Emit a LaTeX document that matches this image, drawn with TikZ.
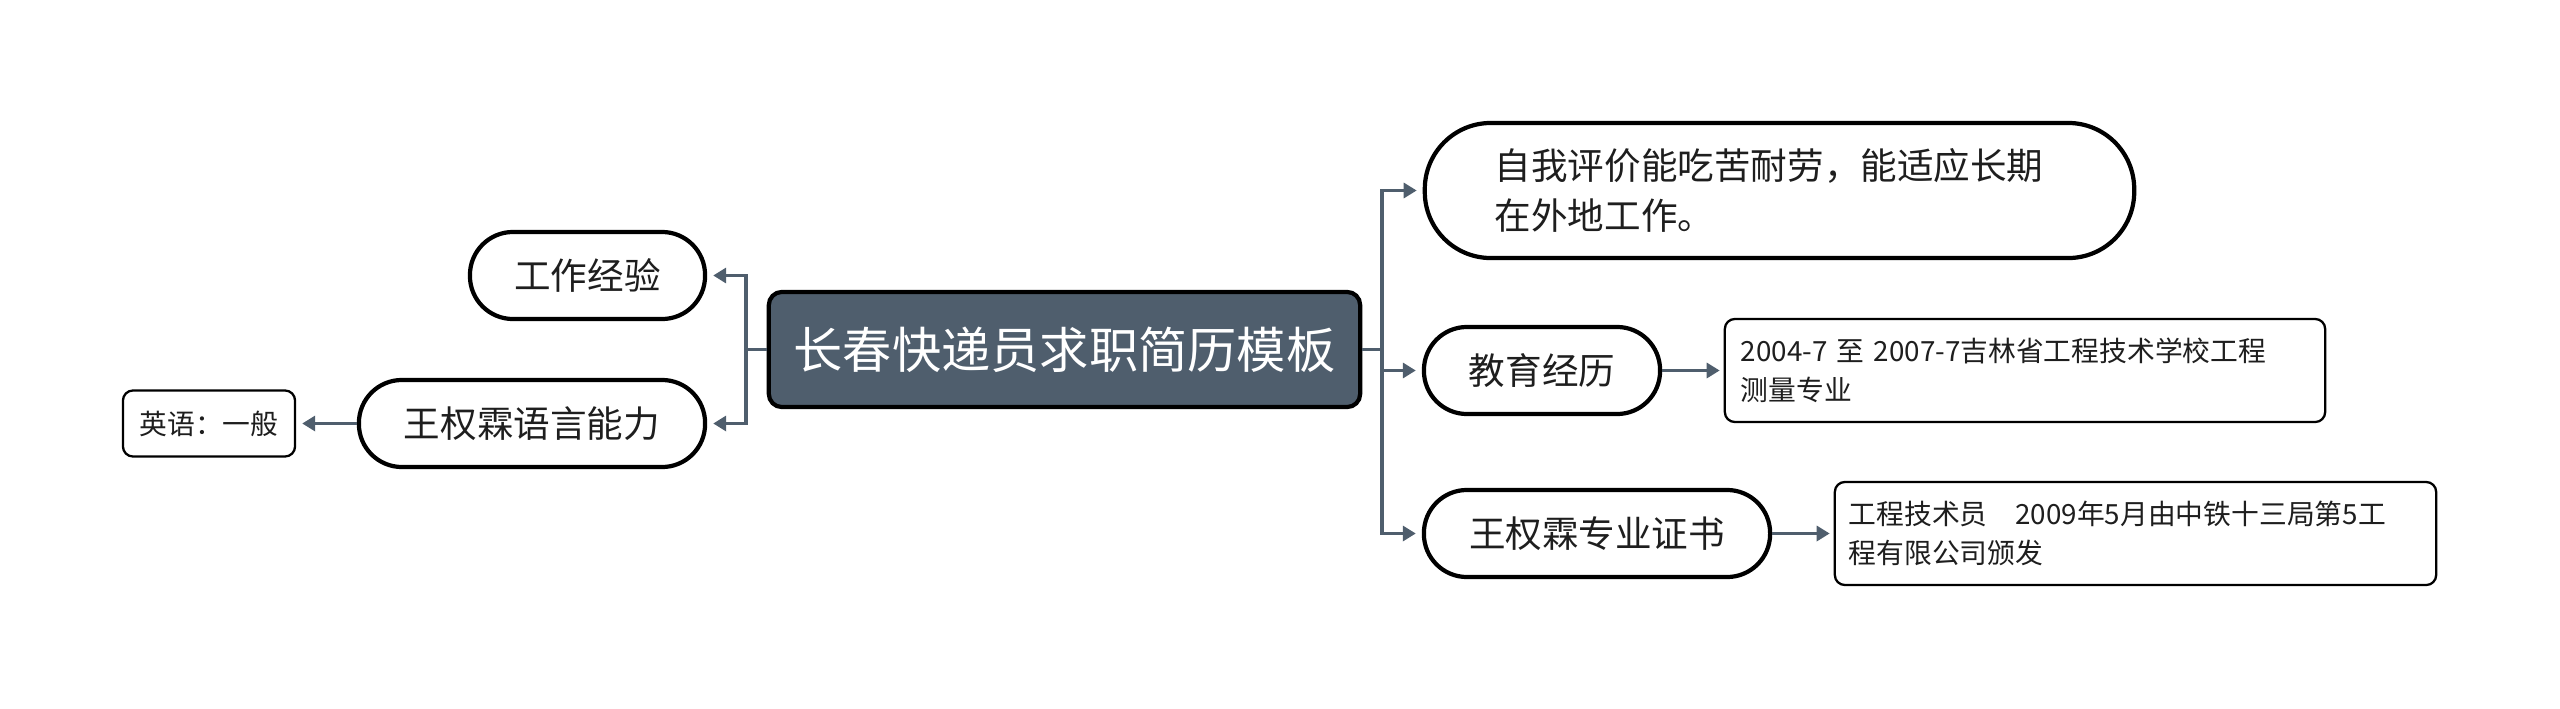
\documentclass[tikz,border=0pt]{standalone}
\usepackage{fontspec}
\setmainfont{Noto Sans CJK SC}
\usetikzlibrary{arrows.meta}
\definecolor{slate}{RGB}{79,94,109}
\definecolor{ink}{RGB}{30,30,30}
\begin{document}
\begin{tikzpicture}[x=0.01cm,y=-0.01cm,
  root/.style={draw=black, line width=1.2pt, fill=slate, rounded corners=0.13cm, minimum width=5.91cm, minimum height=1.15cm, inner sep=0pt, text=white, font=\fontsize{14}{17}\selectfont},
  topic/.style={draw=black, line width=1.2pt, fill=white, rounded corners=0.43cm, minimum height=0.87cm, inner sep=0pt, text=ink, font=\fontsize{10.4}{14.2}\selectfont},
  leaf/.style={draw=black, line width=0.65pt, fill=white, rounded corners=0.1cm, inner sep=0pt, text=ink, font=\fontsize{7.9}{11}\selectfont, align=left},
  conn/.style={draw=slate, line width=0.95pt},
  arr/.style={conn, -{Triangle[length=0.13cm,width=0.15cm]}, shorten >=0.06cm},
]
\useasboundingbox (0,0) rectangle (2560,709);

\node[root] (c) at (1064.5,349.5) {长春快递员求职简历模板};

\node[topic, minimum width=2.35cm] (l1) at (587.5,275.5) {工作经验};
\node[topic, minimum width=3.46cm] (l2) at (532,423.5) {王权霖语言能力};
\node[leaf, minimum width=1.72cm, minimum height=0.66cm] (e) at (209,423.5) {英语：一般};

\node[topic, minimum width=7.09cm, minimum height=1.35cm, rounded corners=0.66cm, text width=5.69cm, align=left] (r1) at (1779.5,190.5) {自我评价能吃苦耐劳，能适应长期\\在外地工作。};
\node[topic, minimum width=2.36cm] (r2) at (1542,370.5) {教育经历};
\node[topic, minimum width=3.46cm] (r3) at (1597,533.5) {王权霖专业证书};

\node[leaf, minimum width=6cm, minimum height=1.03cm, text width=5.68cm] (d1) at (2025,370.5) {2004-7~至~2007-7吉林省工程技术学校工程\\测量专业};
\node[leaf, minimum width=6.01cm, minimum height=1.03cm, text width=5.73cm] (d2) at (2135.5,533.5) {工程技术员　2009年5月由中铁十三局第5工\\程有限公司颁发};

\coordinate (rj) at (1382,349.5);
\coordinate (lj) at (746,349.5);

\draw[conn] (c.east) -- (rj);
\draw[arr] (rj) |- (r1.west);
\draw[arr] (rj) |- (r2.west);
\draw[arr] (rj) |- (r3.west);

\draw[conn] (c.west) -- (lj);
\draw[arr] (lj) |- (l1.east);
\draw[arr] (lj) |- (l2.east);

\draw[arr] (l2.west) -- (e.east);
\draw[arr, shorten >=0.04cm] (r2.east) -- (d1.west);
\draw[arr, shorten >=0.04cm] (r3.east) -- (d2.west);
\end{tikzpicture}
\end{document}
